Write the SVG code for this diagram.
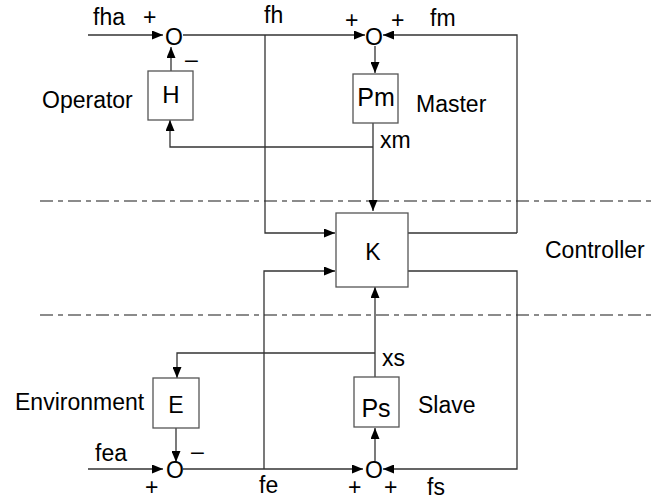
<svg xmlns="http://www.w3.org/2000/svg" width="671" height="502" viewBox="0 0 671 502">
<defs>
<marker id="ah" markerUnits="userSpaceOnUse" markerWidth="11" markerHeight="9" refX="11" refY="4.5" orient="auto">
<path d="M0,0 L11,4.5 L0,9 z" fill="#000"/>
</marker>
</defs>
<style>
.ln{fill:none;stroke:#333;stroke-width:1.3}
.ar{fill:none;stroke:#333;stroke-width:1.3;marker-end:url(#ah)}
.bx{fill:#fff;stroke:#555;stroke-width:1.3}
.dash{fill:none;stroke:#666;stroke-width:1.4;stroke-dasharray:13 5 5 5}
text{font-family:"Liberation Sans",Arial,sans-serif;font-size:23px;fill:#000}
.c{text-anchor:middle}
</style>
<rect width="671" height="502" fill="#fff"/>
<g id="regions">
<line class="dash" x1="40" y1="201" x2="652" y2="201"/>
<line class="dash" x1="40" y1="315" x2="652" y2="315"/>
<text x="545" y="258">Controller</text>
</g>
<g id="connectors">
<line class="ar" x1="88" y1="35" x2="163" y2="35"/>
<line class="ar" x1="183" y1="35" x2="365" y2="35"/>
<polyline class="ar" points="517,233 517,35 383,35"/>
<line class="ln" x1="408" y1="233" x2="517" y2="233"/>
<line class="ar" x1="375" y1="46" x2="375" y2="73"/>
<polyline class="ar" points="373,123 373,211"/>
<polyline class="ar" points="373,147 170,147 170,120"/>
<line class="ar" x1="171" y1="71" x2="171" y2="47"/>
<polyline class="ar" points="265,35 265,233 335,233"/>
<polyline class="ar" points="264,469 264,271 335,271"/>
<polyline class="ar" points="408,271 517,271 517,469 383,469"/>
<polyline class="ar" points="375,377 375,287"/>
<polyline class="ar" points="375,353 177,353 177,378"/>
<line class="ar" x1="176" y1="428" x2="176" y2="462"/>
<line class="ar" x1="88" y1="469" x2="163" y2="469"/>
<line class="ar" x1="183" y1="469" x2="363" y2="469"/>
<line class="ar" x1="375" y1="461" x2="375" y2="428"/>
</g>
<g id="sum-operator">
<text class="c" x="174" y="45">O</text>
</g>
<g id="sum-master">
<text class="c" x="374" y="45">O</text>
</g>
<g id="sum-environment">
<text class="c" x="175" y="478">O</text>
</g>
<g id="sum-slave">
<text class="c" x="374" y="478">O</text>
</g>
<g id="H">
<rect class="bx" x="148" y="71" width="45" height="49"/>
<text class="c" x="171" y="103" style="font-size:24px">H</text>
</g>
<g id="Pm">
<rect class="bx" x="353" y="74" width="45" height="49"/>
<text class="c" x="376" y="106" style="font-size:25px">Pm</text>
</g>
<g id="K">
<rect class="bx" x="336" y="213" width="72" height="74"/>
<text class="c" x="373" y="260">K</text>
</g>
<g id="E">
<rect class="bx" x="153" y="378" width="46" height="50"/>
<text class="c" x="176" y="413" style="font-size:23px">E</text>
</g>
<g id="Ps">
<rect class="bx" x="354" y="377" width="45" height="50"/>
<text class="c" x="376" y="417" style="font-size:25px">Ps</text>
</g>
<g id="labels">
<text x="93" y="25">fha</text>
<text x="143" y="25">+</text>
<text x="185" y="67">–</text>
<text x="264" y="23">fh</text>
<text x="345" y="28">+</text>
<text x="391" y="28">+</text>
<text x="430" y="26">fm</text>
<text x="42" y="108">Operator</text>
<text x="416" y="112">Master</text>
<text x="380" y="148">xm</text>
<text x="382" y="366">xs</text>
<text x="418" y="413">Slave</text>
<text x="15" y="410">Environment</text>
<text x="95" y="461">fea</text>
<text x="191" y="459">–</text>
<text x="145" y="495">+</text>
<text x="259" y="493">fe</text>
<text x="348" y="495">+</text>
<text x="384" y="495">+</text>
<text x="427" y="495">fs</text>
</g>
</svg>
